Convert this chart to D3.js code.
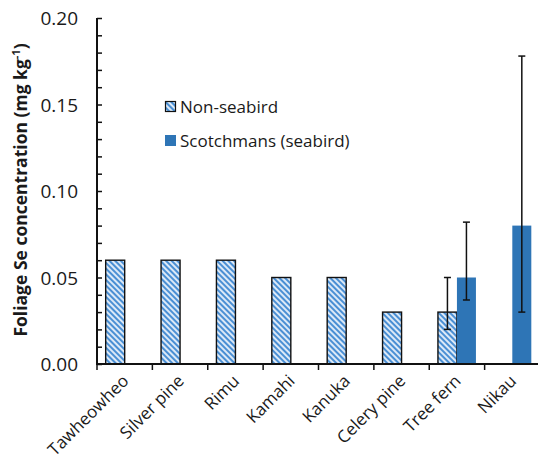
<!DOCTYPE html>
<html><head><meta charset="utf-8">
<script src="https://cdn.jsdelivr.net/npm/d3@7"></script>
<style>body{margin:0;background:#fff}svg{display:block}text{font-family:"Open Sans","Noto Sans",sans-serif;fill:#1a1a1a}</style>
</head><body>
<script>
const categories = ["Tawheowheo","Silver pine","Rimu","Kamahi","Kanuka","Celery pine","Tree fern","Nikau"];
const nonSeabird = [0.06,0.06,0.06,0.05,0.05,0.03,0.03,null];
const nonSeabirdLow = [null,null,null,null,null,null,0.02,null];
const nonSeabirdHigh = [null,null,null,null,null,null,0.05,null];
const seabird = [null,null,null,null,null,null,0.05,0.08];
const seabirdLow = [null,null,null,null,null,null,0.037,0.03];
const seabirdHigh = [null,null,null,null,null,null,0.082,0.178];
const yTicks = [0,0.05,0.10,0.15,0.20];
const seriesNames = ["Non-seabird","Scotchmans (seabird)"];

const W=538,H=463;
const svg=d3.select("body").append("svg").attr("width",W).attr("height",H);
const defs=svg.append("defs");
const pat=defs.append("pattern").attr("id","hatch").attr("patternUnits","userSpaceOnUse")
  .attr("width",4).attr("height",4).attr("patternTransform","rotate(-45)");
pat.append("rect").attr("width",4).attr("height",4).attr("fill","#dce9f7");
pat.append("rect").attr("x",0).attr("width",2).attr("height",4).attr("fill","#4a8fd4");

const x0=97,x1=540,yTop=18,yBot=364;
const x=d3.scaleBand().domain(categories).range([x0,x1]).paddingInner(0).paddingOuter(0);
const y=d3.scaleLinear().domain([0,0.2]).range([yBot,yTop]);
const bw=19;
const g=svg.append("g");

categories.forEach((c,i)=>{
  const cx=x(c)+x.bandwidth()/2;
  if(nonSeabird[i]!=null){
    g.append("rect").attr("x",cx-bw).attr("y",y(nonSeabird[i])).attr("width",bw)
     .attr("height",y(0)-y(nonSeabird[i])).attr("fill","url(#hatch)").attr("stroke","#111").attr("stroke-width",1.4);
  }
  if(seabird[i]!=null){
    g.append("rect").attr("x",cx).attr("y",y(seabird[i])).attr("width",bw)
     .attr("height",y(0)-y(seabird[i])).attr("fill","#2e75b6");
  }
});
function err(cx,lo,hi){
  g.append("line").attr("x1",cx).attr("x2",cx).attr("y1",y(lo)).attr("y2",y(hi)).attr("stroke","#111").attr("stroke-width",1.5);
  [lo,hi].forEach(v=>g.append("line").attr("x1",cx-3.5).attr("x2",cx+3.5).attr("y1",y(v)).attr("y2",y(v)).attr("stroke","#111").attr("stroke-width",1.5));
}
categories.forEach((c,i)=>{
  const cx=x(c)+x.bandwidth()/2;
  if(nonSeabirdLow[i]!=null) err(cx-bw/2,nonSeabirdLow[i],nonSeabirdHigh[i]);
  if(seabirdLow[i]!=null) err(cx+bw/2,seabirdLow[i],seabirdHigh[i]);
});

const yAxis=d3.axisLeft(y).tickValues(d3.range(0,0.2001,0.01)).tickSize(-5).tickFormat("");
const ya=svg.append("g").attr("transform",`translate(${x0},0)`).call(yAxis);
ya.select(".domain").attr("stroke","#111").attr("stroke-width",2).attr("d",`M0,${yTop}V${yBot}`);
ya.selectAll(".tick line").attr("stroke","#111").attr("stroke-width",1.5);
svg.append("g").selectAll("text").data(yTicks).join("text")
  .attr("x",78).attr("y",d=>y(d)+7).attr("text-anchor","end").style("font-size","19px").text(d=>d.toFixed(2));

const xAxis=d3.axisBottom(x).tickSize(6).tickFormat("");
const xa=svg.append("g").attr("transform",`translate(0,${yBot})`).call(xAxis);
xa.selectAll(".tick").remove();
xa.select(".domain").attr("stroke","#111").attr("stroke-width",2).attr("d",`M${x0-1},0H${x1}`);
xa.selectAll("line.sep").data(categories).join("line").attr("class","sep")
  .attr("x1",d=>x(d)).attr("x2",d=>x(d)).attr("y1",0).attr("y2",6).attr("stroke","#111").attr("stroke-width",1.5);
xa.selectAll("text.lab").data(categories).join("text").attr("class","lab")
  .attr("transform",d=>`translate(${x(d)+x.bandwidth()/2+5},${18}) rotate(-45)`)
  .attr("text-anchor","end").style("font-size","17px").text(d=>d);

svg.append("text").attr("transform","translate(27,190) rotate(-90)").attr("text-anchor","middle")
  .style("font-size","17.5px").style("font-weight","bold")
  .html('Foliage Se concentration (mg kg<tspan dy="-7" style="font-size:11px">-1</tspan><tspan dy="7">)</tspan>');

const leg=svg.append("g");
leg.append("rect").attr("x",165.5).attr("y",101.5).attr("width",10).attr("height",10).attr("fill","url(#hatch)").attr("stroke","#111").attr("stroke-width",1.2);
leg.append("text").attr("x",180).attr("y",113).style("font-size","17px").text(seriesNames[0]);
leg.append("rect").attr("x",165).attr("y",135).attr("width",11).attr("height",11).attr("fill","#2e75b6");
leg.append("text").attr("x",180).attr("y",147).style("font-size","17px").text(seriesNames[1]);
</script>
</body></html>
